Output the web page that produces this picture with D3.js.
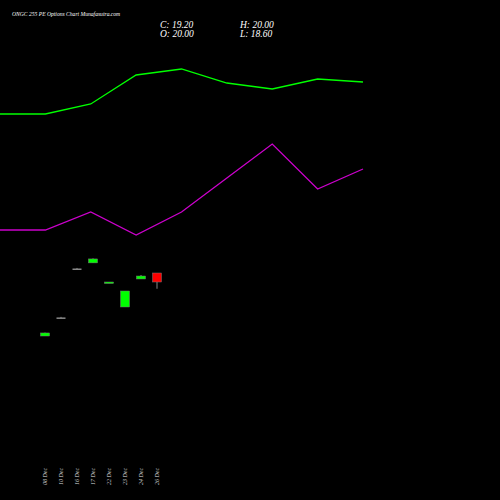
<!DOCTYPE html><html><head><script src="https://cdn.jsdelivr.net/npm/d3@7"></script>
<style>body{margin:0;background:#000}</style></head><body><svg width="500" height="500"></svg>
<script>
const dates=["08 Dec","10 Dec","16 Dec","17 Dec","22 Dec","23 Dec","24 Dec","26 Dec"];
const open=[14.4,16.05,20.4,20.9,19.15,16.98,19.47,20.0];
const close=[14.67,16.05,20.4,21.25,19.2,18.4,19.73,19.2];
const high=[14.7,16.1,20.45,21.3,19.2,18.4,19.82,20.0];
const low=[14.4,16.0,20.35,20.9,19.1,16.98,19.47,18.6];
const greenLine=[114,114,104,75,69,83,89,79,82].map(v=>-v);
const purpleLine=[230,230,212,235,212,178,144,189,169].map(v=>-v);
const svg=d3.select("svg");
svg.append("rect").attr("width",500).attr("height",500).attr("fill","#000");
const x=d3.scalePoint().domain(dates).range([45,157]);
const y=d3.scaleLinear().domain([20,19.2]).range([273,282]);
const xl=d3.scaleLinear().domain([0,8]).range([0,363]);
const yg=d3.scaleLinear().domain([-114,-69]).range([114,69]);
const line=d3.line().x((d,i)=>xl(i)).y(d=>yg(d));
svg.append("path").attr("d",line(greenLine)).attr("fill","none").attr("stroke","#00ff00").attr("stroke-width",1.3);
svg.append("path").attr("d",line(purpleLine)).attr("fill","none").attr("stroke","#cc00cc").attr("stroke-width",1.3);
dates.forEach((d,i)=>{
  const up=close[i]>=open[i], flat=Math.abs(close[i]-open[i])<0.02;
  const col=flat?"#888":(up?"#00ff00":"#ff0000");
  svg.append("line").attr("x1",x(d)).attr("x2",x(d)).attr("y1",y(high[i])).attr("y2",y(low[i])).attr("stroke","#888");
  const t=y(Math.max(open[i],close[i])),b=y(Math.min(open[i],close[i]));
  svg.append("rect").attr("x",x(d)-4.5).attr("width",9).attr("y",t).attr("height",Math.max(1.5,b-t)).attr("fill",col).attr("stroke",flat?"none":"#777").attr("stroke-width",0.5);
  svg.append("text").attr("transform",`translate(${x(d)+2},485) rotate(-90)`).attr("fill","#ccc").attr("font-family","Liberation Serif").attr("font-style","italic").attr("font-size",6).text(d);
});
const tf="Liberation Serif";
svg.append("text").attr("x",12).attr("y",16).attr("fill","#fff").attr("font-family",tf).attr("font-style","italic").attr("font-size",5.6).text("ONGC 255 PE Options  Chart Munafasutra.com");
[["C: 19.20",160,28],["O: 20.00",160,37],["H: 20.00",240,28],["L: 18.60",240,37]].forEach(t=>svg.append("text").attr("x",t[1]).attr("y",t[2]).attr("fill","#fff").attr("font-family",tf).attr("font-style","italic").attr("font-size",9.5).text(t[0]));
</script></body></html>
